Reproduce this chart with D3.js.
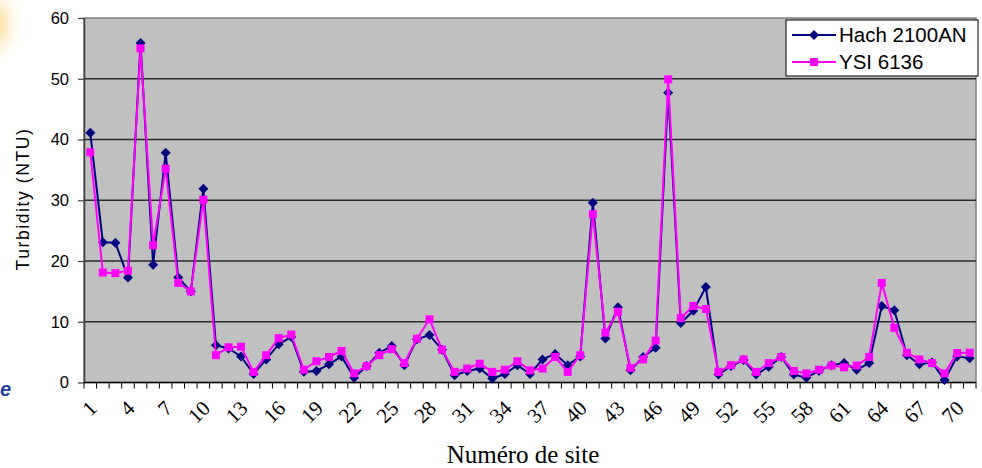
<!DOCTYPE html>
<html>
<head>
<meta charset="utf-8">
<script src="https://cdn.jsdelivr.net/npm/d3@7/dist/d3.min.js"></script>
<style>
    body { margin: 0; background: #fff; }
    svg { display: block; }
</style>
</head>
<body>
<svg id="chart" width="982" height="468"></svg>
<script>
// site numbers on the x axis
var sites = [1, 2, 3, 4, 5, 6, 7, 8, 9, 10, 11, 12, 13, 14, 15, 16, 17, 18, 19, 20,
    21, 22, 23, 24, 25, 26, 27, 28, 29, 30, 31, 32, 33, 34, 35, 36, 37, 38, 39, 40,
    41, 42, 43, 44, 45, 46, 47, 48, 49, 50, 51, 52, 53, 54, 55, 56, 57, 58, 59, 60,
    61, 62, 63, 64, 65, 66, 67, 68, 69, 70, 71];

var siteLabels = [1, 4, 7, 10, 13, 16, 19, 22, 25, 28, 31, 34, 37, 40, 43, 46, 49, 52, 55, 58, 61, 64, 67, 70];

var yTicks = [0, 10, 20, 30, 40, 50, 60];

// turbidity (NTU)
var hach = [41.1, 23.1, 23.0, 17.3, 55.9, 19.4, 37.8, 17.3, 15.0, 31.9,
    6.15, 5.6, 4.3, 1.4, 3.8, 6.3, 7.5, 1.75, 1.9, 3.0,
    4.3, 0.8, 2.7, 4.9, 6.0, 2.85, 7.1, 7.8, 5.4, 1.2,
    1.9, 2.3, 0.65, 1.4, 2.85, 1.4, 3.8, 4.7, 2.85, 4.3,
    29.6, 7.25, 12.4, 2.0, 4.2, 5.7, 47.7, 9.8, 11.8, 15.7,
    1.3, 2.7, 3.7, 1.3, 2.6, 4.2, 1.3, 0.8, 1.9, 2.85,
    3.2, 2.1, 3.2, 12.6, 11.9, 4.5, 3.0, 3.3, 0.4, 4.3, 4.0];

var ysi = [37.9, 18.1, 18.0, 18.4, 55.0, 22.6, 35.2, 16.4, 15.0, 30.1,
    4.5, 5.8, 5.9, 1.75, 4.5, 7.3, 7.9, 2.1, 3.5, 4.2,
    5.2, 1.5, 2.7, 4.5, 5.5, 3.2, 7.2, 10.4, 5.4, 1.75,
    2.3, 3.1, 1.75, 2.1, 3.5, 2.0, 2.3, 4.2, 1.75, 4.5,
    27.7, 8.2, 11.65, 2.4, 3.8, 6.9, 49.9, 10.6, 12.6, 12.1,
    1.75, 2.85, 3.8, 1.75, 3.2, 4.2, 1.9, 1.5, 2.1, 2.8,
    2.5, 2.8, 4.2, 16.4, 9.0, 4.9, 3.8, 3.2, 1.5, 4.85, 4.9];

// the diamond is a square turned by 45 degrees
var series = [
    { name: "Hach 2100AN", values: hach, color: "#000080", size: 50, turn: 45 },
    { name: "YSI 6136", values: ysi, color: "#ff00ff", size: 64, turn: 0 }
];

var svg = d3.select("#chart"),
    plotLeft = 84, plotRight = 976, plotTop = 18, plotBottom = 382.5;

var x = d3.scaleBand().domain(sites).range([plotLeft, plotRight]);
var y = d3.scaleLinear().domain([0, 60]).range([plotBottom, plotTop]);

function cx(i) {
    return x(sites[i]) + x.bandwidth() / 2;
}

// slide leftovers: yellow glow and blue letter
var defs = svg.append("defs");
var glow = defs.append("radialGradient").attr("id", "glow");
glow.append("stop").attr("offset", "0%").attr("stop-color", "#f7d36a").attr("stop-opacity", 0.9);
glow.append("stop").attr("offset", "100%").attr("stop-color", "#fff6d8").attr("stop-opacity", 0);
svg.append("ellipse").attr("cx", -6).attr("cy", 24).attr("rx", 30).attr("ry", 44).attr("fill", "url(#glow)");

svg.append("text")
    .attr("x", 0).attr("y", 396)
    .attr("font-family", "Liberation Sans, Arial, sans-serif")
    .attr("font-size", 20).attr("font-style", "italic").attr("font-weight", "bold")
    .attr("fill", "#1f3f9a")
    .text("e");

// plot area
svg.append("rect")
    .attr("x", plotLeft).attr("y", plotTop)
    .attr("width", plotRight - plotLeft).attr("height", plotBottom - plotTop)
    .attr("fill", "#c0c0c0")
    .attr("stroke", "#808080")
    .attr("stroke-width", 1.5);

svg.append("g").selectAll("line")
    .data(yTicks.slice(1, -1))
    .enter()
    .append("line")
    .attr("x1", plotLeft).attr("x2", plotRight)
    .attr("y1", function (d) { return y(d); })
    .attr("y2", function (d) { return y(d); })
    .attr("stroke", "#2a2a2a")
    .attr("stroke-width", 1.4);

// y axis
var yAxis = svg.append("g")
    .attr("transform", "translate(" + plotLeft + ",0)")
    .call(d3.axisLeft(y).tickValues(yTicks).tickSize(6).tickSizeOuter(0));
yAxis.select(".domain").attr("stroke", "#404040").attr("stroke-width", 1.5);
yAxis.selectAll(".tick line").attr("stroke", "#404040").attr("stroke-width", 1.2);
yAxis.selectAll(".tick text")
    .attr("x", -15)
    .attr("font-family", "Liberation Sans, Arial, sans-serif")
    .attr("font-size", 16.5)
    .attr("fill", "#000");

// x axis: tick marks at category edges, labels every third site
var xAxis = svg.append("g").attr("transform", "translate(0," + plotBottom + ")");
xAxis.append("line")
    .attr("x1", plotLeft).attr("x2", plotRight)
    .attr("stroke", "#000").attr("stroke-width", 1.3);
xAxis.selectAll("line.edge")
    .data(sites.concat([null]))
    .enter()
    .append("line")
    .attr("class", "edge")
    .attr("x1", function (d) { return d === null ? plotRight : x(d); })
    .attr("x2", function (d) { return d === null ? plotRight : x(d); })
    .attr("y1", 0).attr("y2", 6)
    .attr("stroke", "#000").attr("stroke-width", 1);

var labels = svg.append("g")
    .attr("transform", "translate(0," + plotBottom + ")")
    .call(d3.axisBottom(x).tickValues(siteLabels).tickSize(0));
labels.select(".domain").remove();
labels.selectAll(".tick text")
    .attr("font-family", "Liberation Serif, Times New Roman, serif")
    .attr("font-size", 21)
    .attr("fill", "#000")
    .attr("text-anchor", "end")
    .attr("dy", 0)
    .attr("y", 0)
    .attr("transform", "translate(8,27) rotate(-45)");

// axis titles
svg.append("text")
    .attr("transform", "translate(29,199) rotate(-90)")
    .attr("text-anchor", "middle")
    .attr("font-family", "Liberation Sans, Arial, sans-serif")
    .attr("font-size", 17.5)
    .attr("letter-spacing", 1.6)
    .attr("fill", "#000")
    .text("Turbidity (NTU)");

svg.append("text")
    .attr("x", 523).attr("y", 463)
    .attr("text-anchor", "middle")
    .attr("font-family", "Liberation Serif, Times New Roman, serif")
    .attr("font-size", 25)
    .attr("fill", "#000")
    .text("Numéro de site");

// lines and markers
var line = d3.line()
    .x(function (d, i) { return cx(i); })
    .y(function (d) { return y(d); });

var marker = function (s) {
    return d3.symbol().type(d3.symbolSquare).size(s.size)();
};

var groups = svg.append("g").selectAll("g")
    .data(series)
    .enter()
    .append("g");

groups.append("path")
    .attr("d", function (s) { return line(s.values); })
    .attr("fill", "none")
    .attr("stroke", function (s) { return s.color; })
    .attr("stroke-width", 2);

groups.each(function (s) {
    d3.select(this).selectAll("path.mark")
        .data(s.values)
        .enter()
        .append("path")
        .attr("class", "mark")
        .attr("d", marker(s))
        .attr("transform", function (d, i) {
            return "translate(" + cx(i) + "," + y(d) + ") rotate(" + s.turn + ")";
        })
        .attr("fill", s.color);
});

// legend
var legend = svg.append("g");
legend.append("rect")
    .attr("x", 786).attr("y", 20)
    .attr("width", 192).attr("height", 56)
    .attr("fill", "#fff")
    .attr("stroke", "#000")
    .attr("stroke-width", 1);

var items = legend.selectAll("g")
    .data(series)
    .enter()
    .append("g")
    .attr("transform", function (s, i) { return "translate(0," + (35 + i * 27) + ")"; });

items.append("line")
    .attr("x1", 792).attr("x2", 836)
    .attr("stroke", function (s) { return s.color; })
    .attr("stroke-width", 2);
items.append("path")
    .attr("d", marker)
    .attr("transform", function (s) { return "translate(814,0) rotate(" + s.turn + ")"; })
    .attr("fill", function (s) { return s.color; });
items.append("text")
    .attr("x", 839).attr("y", 6.5)
    .attr("font-family", "Liberation Sans, Arial, sans-serif")
    .attr("font-size", 20.5)
    .attr("fill", "#000")
    .text(function (s) { return s.name; });
</script>
</body>
</html>
